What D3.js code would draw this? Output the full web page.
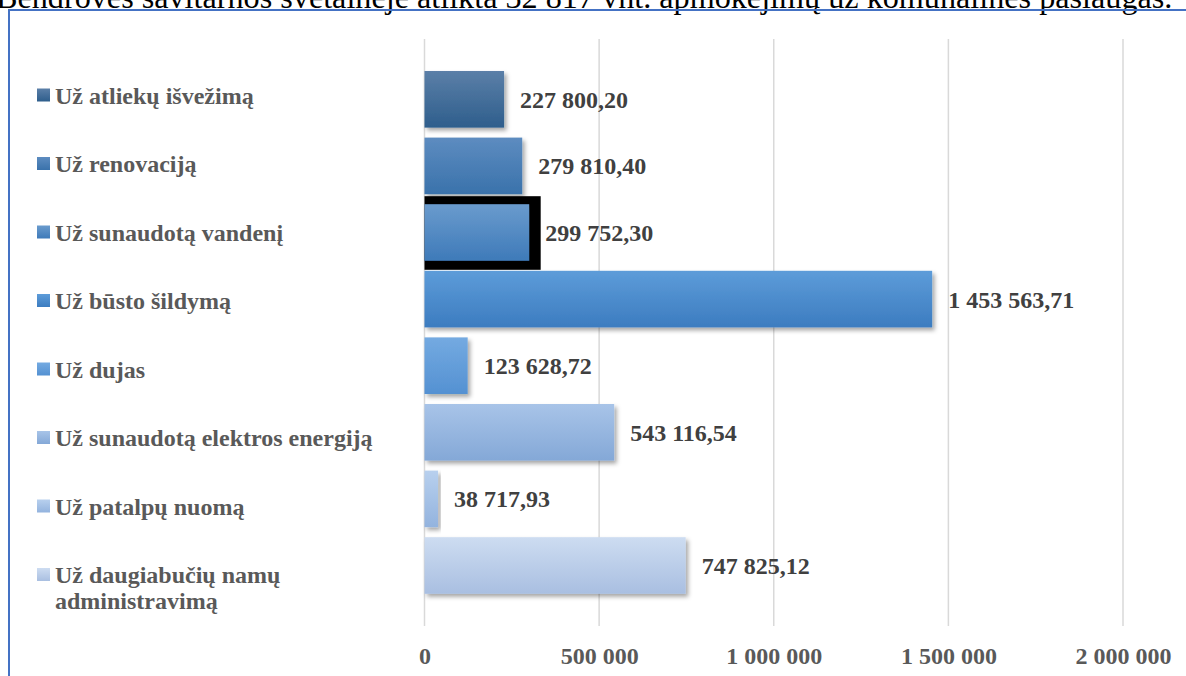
<!DOCTYPE html>
<html><head><meta charset="utf-8">
<script src="https://cdn.jsdelivr.net/npm/d3@7"></script>
<style>
html,body{margin:0;padding:0;background:#fff;overflow:hidden;}
svg{display:block;font-family:"Times New Roman","Liberation Serif",serif;}
</style></head>
<body>
<svg id="chart" width="1186" height="676"></svg>
<script>
// ---- data ----
const categories = [
  "Už atliekų išvežimą",
  "Už renovaciją",
  "Už sunaudotą vandenį",
  "Už būsto šildymą",
  "Už dujas",
  "Už sunaudotą elektros energiją",
  "Už patalpų nuomą",
  "Už daugiabučių namų administravimą"
];
const legendLines = [
  ["Už atliekų išvežimą"],
  ["Už renovaciją"],
  ["Už sunaudotą vandenį"],
  ["Už būsto šildymą"],
  ["Už dujas"],
  ["Už sunaudotą elektros energiją"],
  ["Už patalpų nuomą"],
  ["Už daugiabučių namų", "administravimą"]
];
const values = [227800.20, 279810.40, 299752.30, 1453563.71, 123628.72, 543116.54, 38717.93, 747825.12];
const tickValues = [0, 500000, 1000000, 1500000, 2000000];
const headerText = "Bendrovės savitarnos svetainėje atlikta 32 817 vnt. apmokėjimų už komunalines paslaugas.";

// ---- styles ----
const gradTop = ["#5b7fa8","#5d8cc0","#6a9bcd","#5d9cd9","#74aae1","#a8c4e8","#b8d0ee","#cddcf1"];
const gradBot = ["#2e5e8c","#3a72ab","#3e7ab9","#3c7cc0","#5491d2","#84a8d7","#93b3de","#a9bfe1"];
const highlightIndex = 2;

const svg = d3.select("#chart");
const defs = svg.append("defs");
categories.forEach((c,i)=>{
  const g = defs.append("linearGradient").attr("id","g"+i).attr("x1",0).attr("y1",0).attr("x2",0).attr("y2",1);
  g.append("stop").attr("offset","0%").attr("stop-color",gradTop[i]);
  g.append("stop").attr("offset","100%").attr("stop-color",gradBot[i]);
});
const f = defs.append("filter").attr("id","sh").attr("x","-10%").attr("y","-20%").attr("width","130%").attr("height","150%");
f.append("feDropShadow").attr("dx",2.5).attr("dy",3).attr("stdDeviation",2.2).attr("flood-color","#000").attr("flood-opacity",0.35);

// header text (cut at top, as in the reference)
const ht = svg.append("text").attr("x",-4).attr("y",8).attr("font-size",24).attr("fill","#000").text(headerText);
const nat = ht.node().getComputedTextLength();
ht.attr("font-size", 24 * 1177 / nat);

// frame
svg.append("rect").attr("x",9).attr("y",10).attr("width",1300).attr("height",800)
  .attr("fill","none").attr("stroke","#4472c4").attr("stroke-width",2);

// scales
const x = d3.scaleLinear().domain([0,2000000]).range([424.5,1123]);
const y = d3.scaleBand().domain(categories).range([66,598.8]).paddingInner(0.15).paddingOuter(0.075);

const loc = d3.formatLocale({decimal:",", thousands:"\u00a0", grouping:[3], currency:["",""]});
const fmtVal = loc.format(",.2f");
const fmtTick = loc.format(",d");

// gridlines
svg.append("g").selectAll("line").data(tickValues).join("line")
  .attr("x1",d=>x(d)).attr("x2",d=>x(d)).attr("y1",39).attr("y2",626)
  .attr("stroke","#d9d9d9").attr("stroke-width",1.5);

// x axis labels
const xAxis = d3.axisBottom(x).tickValues(tickValues).tickFormat(fmtTick).tickSize(0).tickPadding(0);
const ax = svg.append("g").attr("transform","translate(0,647)").call(xAxis);
ax.select(".domain").remove();
ax.selectAll("text").attr("font-family","'Times New Roman','Liberation Serif',serif")
  .attr("font-size",24).attr("font-weight","bold").attr("fill","#595959").attr("dy","0.71em");

// highlight border
svg.append("rect")
  .attr("x",x(0)).attr("y",y(categories[highlightIndex])-8)
  .attr("width",x(values[highlightIndex])-x(0)+11.5).attr("height",y.bandwidth()+17)
  .attr("fill","#000");

// bars
svg.append("g").selectAll("rect").data(categories).join("rect")
  .attr("x",x(0)).attr("y",d=>y(d))
  .attr("width",(d,i)=>x(values[i])-x(0)).attr("height",y.bandwidth())
  .attr("fill",(d,i)=>`url(#g${i})`).attr("filter","url(#sh)");

// value labels
svg.append("g").selectAll("text").data(categories).join("text")
  .attr("x",(d,i)=>x(values[i])+16).attr("y",d=>y(d)+y.bandwidth()/2+8.5)
  .attr("font-size",24).attr("font-weight","bold").attr("fill","#404040")
  .text((d,i)=>fmtVal(values[i]));

// legend
const ly = d3.scalePoint().domain(categories).range([95,574.5]);
const lg = svg.append("g").selectAll("g").data(categories).join("g")
  .attr("transform",d=>`translate(0,${ly(d)})`);
lg.append("rect").attr("x",37).attr("y",-6.5).attr("width",13).attr("height",13)
  .attr("fill",(d,i)=>`url(#g${i})`);
lg.append("text").attr("x",55).attr("y",8.5).attr("font-size",24).attr("font-weight","bold").attr("fill","#595959")
  .selectAll("tspan").data((d,i)=>legendLines[i]).join("tspan")
  .attr("x",55).attr("dy",(d,j)=>j===0?0:26).text(d=>d);
</script>
</body></html>
